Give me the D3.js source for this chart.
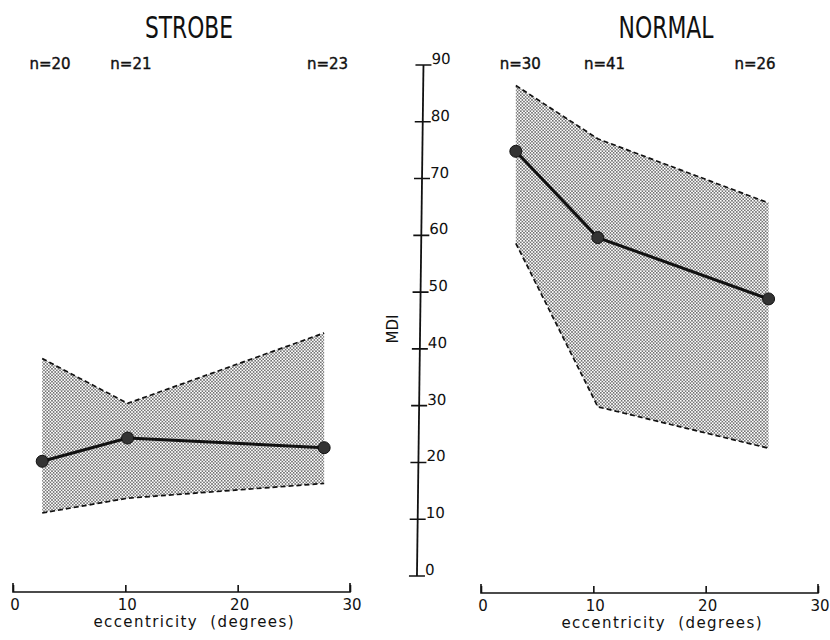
<!DOCTYPE html>
<html lang="en">
<head>
    <meta charset="UTF-8">
    <title>MDI vs eccentricity - strobe / normal</title>
    <style>
        body { margin: 0; background: #fff; }
        svg { display: block; }
        text { font-family: "DejaVu Sans", sans-serif; fill: #111; }
    </style>
</head>
<body>
    <div id="chart"></div>
    <script src="https://d3js.org/d3.v7.min.js"></script>
    <script>
        // data
        const strobeEcc = [2.6, 10.2, 27.7];
        const strobeMean = [20.2, 24.3, 22.6];
        const strobeUpper = [38.3, 30.4, 42.8];
        const strobeLower = [11.1, 13.7, 16.3];
        const strobeN = [20, 21, 23];
        const strobeNEcc = [3.3, 10.5, 28];

        const normalEcc = [3.1, 10.4, 25.6];
        const normalMean = [74.8, 59.6, 48.8];
        const normalUpper = [86.4, 77.0, 65.7];
        const normalLower = [58.6, 29.8, 22.5];
        const normalN = [30, 41, 26];
        const normalNEcc = [3.5, 11, 24.4];

        const xTicks = [0, 10, 20, 30];
        const yTicks = [0, 10, 20, 30, 40, 50, 60, 70, 80, 90];

        const width = 830, height = 640;

        const svg = d3.select("#chart").append("svg")
            .attr("width", width)
            .attr("height", height);

        // dotted screen fill
        const pat = svg.append("defs").append("pattern")
            .attr("id", "dots")
            .attr("patternUnits", "userSpaceOnUse")
            .attr("width", 3.2).attr("height", 3.2);
        pat.append("rect").attr("width", 3.2).attr("height", 3.2).attr("fill", "#fff");
        pat.append("circle").attr("cx", 0.8).attr("cy", 0.8).attr("r", 0.72).attr("fill", "#333");
        pat.append("circle").attr("cx", 2.4).attr("cy", 2.4).attr("r", 0.72).attr("fill", "#333");

        const y = d3.scaleLinear().domain([0, 90]).range([576, 65]);

        const panels = [
            { title: "STROBE", titleX: 189, titleLen: 88, range: [13, 350], axisY: 592,
              ecc: strobeEcc, mean: strobeMean, upper: strobeUpper, lower: strobeLower,
              n: strobeN, nEcc: strobeNEcc },
            { title: "NORMAL", titleX: 666, titleLen: 95, range: [481, 818], axisY: 593,
              ecc: normalEcc, mean: normalMean, upper: normalUpper, lower: normalLower,
              n: normalN, nEcc: normalNEcc }
        ];

        panels.forEach(p => {
            const x = d3.scaleLinear().domain([0, 30]).range(p.range);
            const idx = d3.range(p.ecc.length);

            // shaded range
            const area = d3.area()
                .x(i => x(p.ecc[i]))
                .y0(i => y(p.lower[i]))
                .y1(i => y(p.upper[i]));
            svg.append("path")
                .attr("d", area(idx))
                .attr("fill", "url(#dots)")
                .attr("stroke", "none");

            const bound = vals => d3.line().x(i => x(p.ecc[i])).y(i => y(vals[i]))(idx);
            [p.upper, p.lower].forEach(vals => {
                svg.append("path")
                    .attr("d", bound(vals))
                    .attr("fill", "none")
                    .attr("stroke", "#111")
                    .attr("stroke-width", 1.7)
                    .attr("stroke-dasharray", "5,3");
            });

            // mean line and points
            svg.append("path")
                .attr("d", d3.line().x(i => x(p.ecc[i])).y(i => y(p.mean[i]))(idx))
                .attr("fill", "none")
                .attr("stroke", "#111")
                .attr("stroke-width", 3);
            svg.selectAll(null).data(idx).enter().append("circle")
                .attr("cx", i => x(p.ecc[i]))
                .attr("cy", i => y(p.mean[i]))
                .attr("r", 6)
                .attr("fill", "#333")
                .attr("stroke", "#111")
                .attr("stroke-width", 1);

            // title
            svg.append("text")
                .attr("x", p.titleX).attr("y", 38)
                .attr("text-anchor", "middle")
                .attr("textLength", p.titleLen)
                .attr("lengthAdjust", "spacingAndGlyphs")
                .style("font-family", "'DejaVu Sans Condensed', 'Liberation Sans Narrow', sans-serif")
                .style("font-size", "31px")
                .text(p.title);

            // n labels
            svg.selectAll(null).data(idx).enter().append("text")
                .attr("x", i => x(p.nEcc[i]))
                .attr("y", 69)
                .attr("text-anchor", "middle")
                .style("font-size", "15px")
                .style("stroke", "#111")
                .style("stroke-width", 0.4)
                .text(i => "n=" + p.n[i]);

            // x axis
            const gx = svg.append("g")
                .attr("transform", `translate(0,${p.axisY})`)
                .call(d3.axisTop(x).tickValues(xTicks).tickSize(7).tickFormat(""));
            gx.select(".domain").attr("d", `M${p.range[0]},-9V0H${p.range[1]}V-9`)
                .attr("stroke", "#111").attr("stroke-width", 1.6);
            gx.selectAll(".tick line").attr("stroke", "#111").attr("stroke-width", 1.6);

            svg.selectAll(null).data(xTicks).enter().append("text")
                .attr("x", d => x(d) + 2)
                .attr("y", p.axisY + 18)
                .attr("text-anchor", "middle")
                .style("font-size", "15px")
                .text(d => d);

            svg.append("text")
                .attr("x", (p.range[0] + p.range[1]) / 2 + 12)
                .attr("y", p.axisY + 35)
                .attr("text-anchor", "middle")
                .attr("textLength", 200)
                .style("font-size", "15px")
                .text("eccentricity  (degrees)")
                .attr("xml:space", "preserve");
        });

        // shared y axis (slightly leaning, as in the print)
        const gy = svg.append("g")
            .attr("transform", "translate(424.3,0) skewX(-0.73)");
        gy.append("line")
            .attr("x1", 0).attr("x2", 0)
            .attr("y1", y(90)).attr("y2", y(0))
            .attr("stroke", "#111").attr("stroke-width", 1.8);
        gy.selectAll("line.tick").data(yTicks).enter().append("line")
            .attr("class", "tick")
            .attr("x1", -8).attr("x2", 8)
            .attr("y1", d => y(d)).attr("y2", d => y(d))
            .attr("stroke", "#111").attr("stroke-width", 1.6);
        gy.selectAll("text").data(yTicks).enter().append("text")
            .attr("x", 8)
            .attr("y", d => y(d) - 1)
            .style("font-size", "15px")
            .text(d => d);

        svg.append("text")
            .attr("transform", "translate(398,329) rotate(-90)")
            .attr("text-anchor", "middle")
            .style("font-size", "15px")
            .text("MDI");
    </script>
</body>
</html>
